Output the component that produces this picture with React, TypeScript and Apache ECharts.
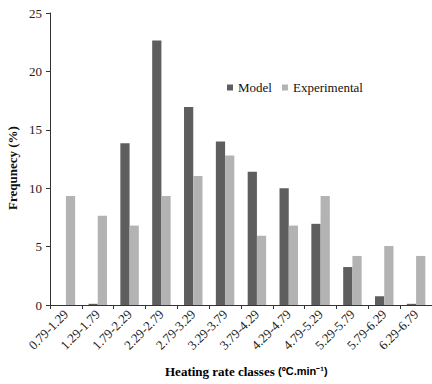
import React, { useEffect, useRef } from "react";
import * as echarts from "echarts";

const categories = [
  "0.79-1.29", "1.29-1.79", "1.79-2.29", "2.29-2.79", "2.79-3.29", "3.29-3.79",
  "3.79-4.29", "4.29-4.79", "4.79-5.29", "5.29-5.79", "5.79-6.29", "6.29-6.79",
];
const modelValues = [0, 0.1, 13.85, 22.65, 16.95, 14.0, 11.4, 10.0, 6.95, 3.25, 0.75, 0.1];
const experimentalValues = [9.33, 7.65, 6.8, 9.33, 11.05, 12.8, 5.93, 6.8, 9.33, 4.2, 5.05, 4.2];
const yTicks = [0, 5, 10, 15, 20, 25];

export default function App() {
  const ref = useRef<HTMLDivElement>(null);
  useEffect(() => {
    if (!ref.current) return;
    const chart = echarts.init(ref.current, undefined, { renderer: "svg" });
    const serif = "'Liberation Serif', 'Times New Roman', serif";
    chart.setOption({
      animation: false,
      backgroundColor: "#ffffff",
      grid: { left: 50, right: -3, top: 13, bottom: 79, containLabel: false },
      legend: {
        data: ["Model", "Experimental"],
        left: 222,
        top: 76,
        itemWidth: 6,
        itemHeight: 6,
        itemGap: 10,
        icon: "rect",
        textStyle: { fontFamily: serif, fontSize: 13, color: "#111" },
      },
      xAxis: {
        type: "category",
        data: categories,
        axisLine: { lineStyle: { color: "#333", width: 1 } },
        axisTick: { show: true, length: 4, lineStyle: { color: "#333" } },
        axisLabel: {
          rotate: 45,
          interval: 0,
          fontFamily: serif,
          fontSize: 13,
          color: "#222",
          margin: 7,
        },
      },
      yAxis: {
        type: "value",
        min: 0,
        max: 25,
        interval: 5,
        splitLine: { show: false },
        axisLine: { show: true, lineStyle: { color: "#333", width: 1 } },
        axisTick: { show: true, length: 4, lineStyle: { color: "#333" } },
        axisLabel: {
          fontFamily: serif,
          fontSize: 13,
          color: "#222",
          margin: 8,
          formatter: (v: number) => (yTicks.includes(v) ? String(v) : ""),
        },
      },
      series: [
        {
          name: "Model",
          type: "bar",
          data: modelValues,
          itemStyle: { color: "#5e5e5e" },
          barGap: "0%",
          barCategoryGap: "42%",
        },
        {
          name: "Experimental",
          type: "bar",
          data: experimentalValues,
          itemStyle: { color: "#b3b3b3" },
          barGap: "0%",
          barCategoryGap: "42%",
        },
      ],
      graphic: [
        {
          type: "text",
          x: 12,
          y: 168,
          rotation: Math.PI / 2,
          style: {
            text: "Frequnecy (%)",
            font: "bold 13px " + serif,
            fill: "#111",
            textAlign: "center",
            textVerticalAlign: "middle",
          },
        },
        {
          type: "text",
          x: 165,
          y: 371,
          style: {
            text: "{a|Heating rate classes} {b|(ºC.min⁻¹)}",
            textVerticalAlign: "middle",
            rich: {
              a: { fontFamily: serif, fontWeight: "bold", fontSize: 13, color: "#111" },
              b: { fontFamily: "'Liberation Sans', Arial, sans-serif", fontWeight: "bold", fontSize: 11, color: "#111" },
            },
          },
        },
      ],
    });
    return () => chart.dispose();
  }, []);
  return (
    <div
      ref={ref}
      style={{ position: "fixed", left: 0, top: 0, width: 432, height: 384, background: "#fff" }}
    />
  );
}
